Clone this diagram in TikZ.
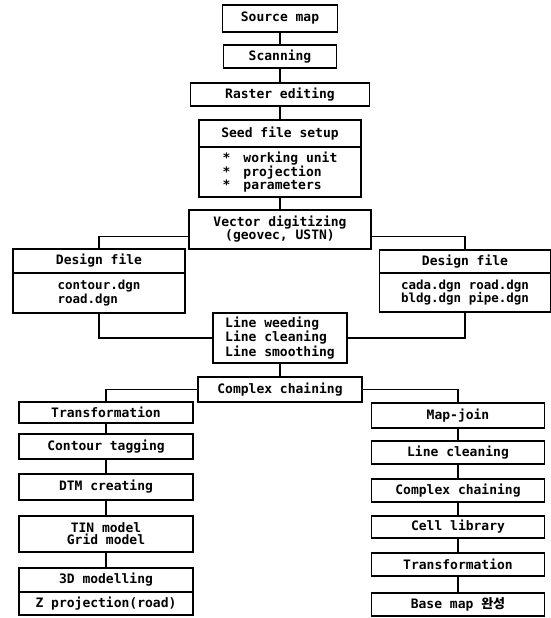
\documentclass[tikz,border=0pt]{standalone}
\usepackage{fontspec}
\usepackage{tikz}
\usetikzlibrary{positioning}
\newfontfamily\chartfont{DejaVu Sans Mono}
\newfontfamily\krfont{Noto Sans CJK KR}
\tikzset{
    stage/.style={draw=black, line width=1.2pt, inner sep=0pt, align=center,
        font=\chartfont\bfseries\fontsize{13}{13}\selectfont},
    stagelist/.style={stage, align=left},
    tightlist/.style={stage, font=\chartfont\bfseries\fontsize{12.5}{11}\selectfont},
    link/.style={draw=black, line width=1.2pt},
}

\begin{document}
\begin{tikzpicture}[x=1pt, y=-1pt]
% \draw[step=50, very thin, gray] (0,0) grid (550,618);
\useasboundingbox (0,0) rectangle (550,618);
\node[stage, minimum width=115pt, minimum height=27pt] (src) at (280,18.5) {Source map};
\node[stage, minimum width=113pt, minimum height=23pt] (scan) at (280,56.5) {Scanning};
\node[stage, minimum width=179pt, minimum height=23pt] (raster) at (280,94.5) {Raster editing};
\node[stage, minimum width=162pt, minimum height=27pt] (seedT) at (280,133.5) {Seed file setup};
\node[stagelist, minimum width=162pt, minimum height=50pt, font=\chartfont\bfseries\fontsize{13}{12}\selectfont] (seedL) at (280,172)
    {*\hspace{1em}working unit\\ *\hspace{1em}projection\\ *\hspace{1em}parameters};
\node[stage, minimum width=182pt, minimum height=39pt] (vec) at (280,229.5) {Vector digitizing\\(geovec, USTN)};
\node[stage, minimum width=172pt, minimum height=24pt] (dfLT) at (99,261) {Design file};
\node[tightlist, align=left, minimum width=172pt, minimum height=40pt] (dfLB) at (99,293) {contour.dgn\\road.dgn};
\node[stage, minimum width=171pt, minimum height=23pt] (dfRT) at (465,261.5) {Design file};
\node[tightlist, minimum width=171pt, minimum height=39pt] (dfRB) at (465,292.5) {cada.dgn road.dgn\\bldg.dgn pipe.dgn};
\node[stagelist, minimum width=134pt, minimum height=50pt] (weed) at (280,338) {Line weeding\\Line cleaning\\Line smoothing};
\node[stage, minimum width=164pt, minimum height=25pt] (cc) at (280,389.5) {Complex chaining};
% left branch
\node[stage, minimum width=174pt, minimum height=21pt] (trL) at (106,412.5) {Transformation};
\node[stage, minimum width=174pt, minimum height=25pt] (tag) at (106,446.5) {Contour tagging};
\node[stage, minimum width=174pt, minimum height=26pt] (dtm) at (106,487) {DTM\hspace{0.6em}creating};
\node[stage, minimum width=174pt, minimum height=36pt, font=\chartfont\bfseries\fontsize{13}{12}\selectfont] (tin) at (106,534) {TIN model\\Grid model};
\node[stage, minimum width=174pt, minimum height=24pt] (m3d) at (106,580) {3D modelling};
\node[stage, minimum width=174pt, minimum height=23pt] (zp) at (106,603.5) {Z projection(road)};
% right branch
\node[stage, minimum width=173pt, minimum height=25pt] (mj) at (458,415.5) {Map-join};
\node[stage, minimum width=173pt, minimum height=23pt] (lc) at (458,452.5) {Line cleaning};
\node[stage, minimum width=173pt, minimum height=23pt] (cc2) at (458,490.5) {Complex chaining};
\node[stage, minimum width=173pt, minimum height=22pt] (cell) at (458,527) {Cell library};
\node[stage, minimum width=173pt, minimum height=23pt] (trR) at (458,564.5) {Transformation};
\node[stage, minimum width=173pt, minimum height=23pt] (base) at (458,604.5) {Base map {\krfont\bfseries 완성}};

\foreach \a/\b in {src/scan, scan/raster, raster/seedT, seedL/vec, weed/cc}
    \draw[link] (\a) -- (\b);
\draw[link] ([yshift=-7pt]vec.west) -| (dfLT.north);
\draw[link] ([yshift=-7pt]vec.east) -| (dfRT.north);
\draw[link] (dfLB.south) |- (weed.west);
\draw[link] (dfRB.south) |- (weed.east);
\draw[link] (cc.west) -| (trL.north);
\draw[link] (cc.east) -| (mj.north);
\foreach \a/\b in {trL/tag, tag/dtm, dtm/tin, tin/m3d, mj/lc, lc/cc2, cc2/cell, cell/trR, trR/base}
    \draw[link] (\a) -- (\b);
\end{tikzpicture}
\end{document}
